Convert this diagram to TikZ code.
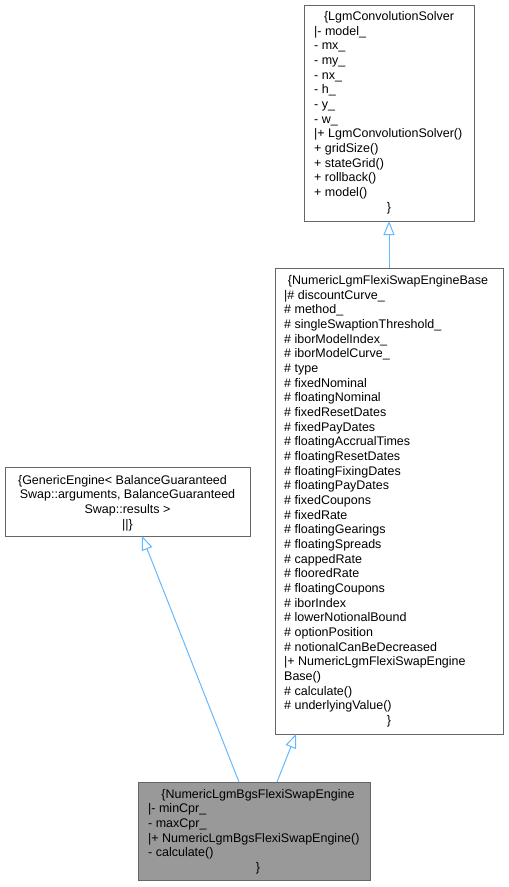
\documentclass[tikz,border=0pt]{standalone}
\usepackage{fontspec}
\setmainfont{Liberation Sans}
\usetikzlibrary{arrows.meta}
\definecolor{edgeblue}{HTML}{63B8FF}
\definecolor{boxborder}{HTML}{666666}
\definecolor{boxfill}{HTML}{999999}
\tikzset{
  umlbox/.style={draw=boxborder, line width=1pt, rectangle, inner sep=0pt, anchor=north west},
  txt/.style={inner sep=0pt, font=\fontsize{12.5}{14.67}\selectfont},
  txtl/.style={txt, anchor=base west},
  txtc/.style={txt, anchor=base},
  inherit/.style={draw=edgeblue, line width=1pt, -{Triangle[open, length=14pt, width=11pt]}}
}
\begin{document}
\begin{tikzpicture}[x=1pt,y=-1pt]
\useasboundingbox (0,0) rectangle (509,887);
% boxes
\node[umlbox, minimum width=170pt, minimum height=216pt] (b1) at (304,5) {};
\node[umlbox, minimum width=228pt, minimum height=466pt] (b2) at (275,268) {};
\node[umlbox, minimum width=245pt, minimum height=69pt] (b3) at (5,467) {};
\node[umlbox, fill=boxfill, minimum width=232pt, minimum height=98pt] (b4) at (138,782) {};
% box 1 text
\node[txtc] (b1title) at (389,20.5) {\{LgmConvolutionSolver};
\foreach \t [count=\i] in {|- model\_, - mx\_, - my\_, - nx\_, - h\_, - y\_, - w\_, |+ LgmConvolutionSolver(), + gridSize(), + stateGrid(), + rollback(), + model()}
  \node[txtl] (b1l\i) at (314,{20.5+\i*14.67}) {\t};
\node[txtc] (b1end) at (389,{20.5+13*14.67}) {\}};
% box 2 text
\node[txtc] (b2title) at (388,284.5) {\{NumericLgmFlexiSwapEngineBase};
\foreach \t [count=\i] in {|\# discountCurve\_, \# method\_, \# singleSwaptionThreshold\_, \# iborModelIndex\_, \# iborModelCurve\_, \# type, \# fixedNominal, \# floatingNominal, \# fixedResetDates, \# fixedPayDates, \# floatingAccrualTimes, \# floatingResetDates, \# floatingFixingDates, \# floatingPayDates, \# fixedCoupons, \# fixedRate, \# floatingGearings, \# floatingSpreads, \# cappedRate, \# flooredRate, \# floatingCoupons, \# iborIndex, \# lowerNotionalBound, \# optionPosition, \# notionalCanBeDecreased, |+ NumericLgmFlexiSwapEngine, Base(), \# calculate(), \# underlyingValue()}
  \node[txtl] (b2l\i) at (284,{284.5+\i*14.67}) {\t};
\node[txtc] (b2end) at (389,{284.5+30*14.67}) {\}};
% box 3 text
\node[txtc] (b3l0) at (122.5,484) {\{GenericEngine< BalanceGuaranteed};
\node[txtc] (b3l1) at (127.5,{484+14.67}) {Swap::arguments, BalanceGuaranteed};
\node[txtc] (b3l2) at (127.5,{484+2*14.67}) {Swap::results >};
\node[txtc] (b3l3) at (127.5,{484+3*14.67}) {||\}};
% box 4 text
\node[txtc] (b4title) at (258,798) {\{NumericLgmBgsFlexiSwapEngine};
\foreach \t [count=\i] in {|- minCpr\_, - maxCpr\_, |+ NumericLgmBgsFlexiSwapEngine(), - calculate()}
  \node[txtl] (b4l\i) at (148,{798+\i*14.67}) {\t};
\node[txtc] (b4end) at (258,{798+5*14.67}) {\}};
% connector end points
\coordinate (e1s) at (389,268);
\coordinate (e1t) at (389,221);
\coordinate (e2s) at (239,782);
\coordinate (e2t) at (142,536);
\coordinate (e3s) at (277,782);
\coordinate (e3t) at (296,734);
\draw[inherit] (e1s) -- (e1t);
\draw[inherit] (e2s) -- (e2t);
\draw[inherit] (e3s) -- (e3t);
\end{tikzpicture}
\end{document}
